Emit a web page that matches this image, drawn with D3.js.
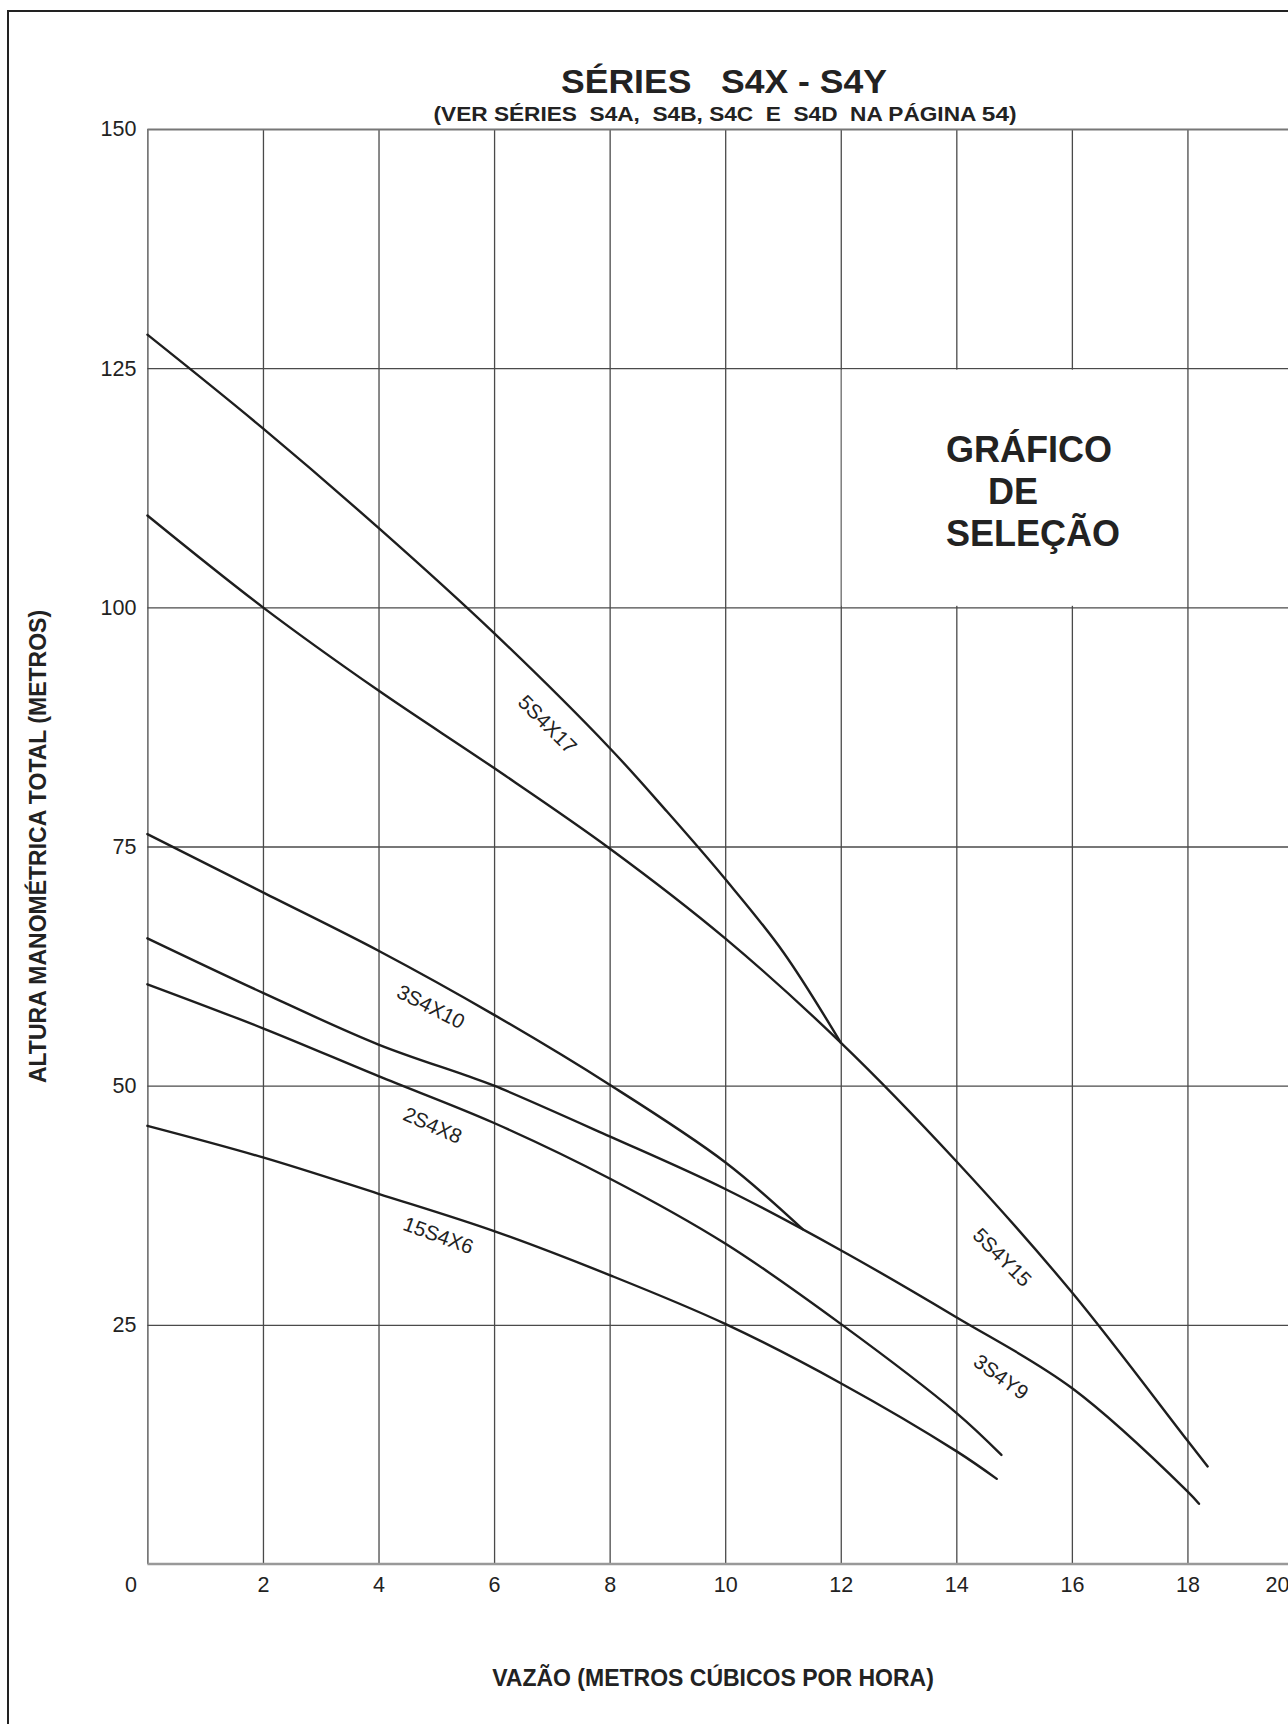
<!DOCTYPE html>
<html>
<head>
<meta charset="utf-8">
<script src="https://cdn.jsdelivr.net/npm/d3@7/dist/d3.min.js"></script>
<style>
  html, body { margin: 0; padding: 0; background: #fff; }
  svg { display: block; }
  text { font-family: "Liberation Sans", Arial, sans-serif; fill: #222; }
</style>
</head>
<body>
<svg id="chart" width="1288" height="1724"></svg>
<script>
// axis ticks
const xTicks = [0, 2, 4, 6, 8, 10, 12, 14, 16, 18, 20];
const yTicks = [25, 50, 75, 100, 125, 150];

// curve names
const pumpNames = ["5S4X17", "5S4Y15", "3S4X10", "3S4Y9", "2S4X8", "15S4X6"];

// flow (m3/h) and head (m)
const flow5S4X17 = [0, 2, 4, 6, 8, 9, 10, 11, 12];
const head5S4X17 = [128.5, 118.7, 108.3, 97.3, 85.3, 78.6, 71.6, 64.0, 54.5];

const flow5S4Y15 = [0, 2, 4, 6, 8, 10, 12, 14, 16, 18, 18.35];
const head5S4Y15 = [109.6, 100.0, 91.3, 83.2, 74.8, 65.4, 54.5, 42.1, 28.4, 12.9, 10.2];

const flow3S4X10 = [0, 2, 4, 6, 8, 10, 11.34];
const head3S4X10 = [76.3, 70.2, 64.1, 57.4, 50.1, 42.0, 35.0];

const flow3S4Y9 = [0, 2, 4, 5.5, 6, 8, 10, 12, 14, 16, 18, 18.2];
const head3S4Y9 = [65.4, 59.7, 54.3, 51.1, 50.0, 44.7, 39.2, 32.8, 25.8, 18.4, 7.6, 6.3];

const flow2S4X8 = [0, 2, 4, 6, 8, 10, 12, 14, 14.78];
const head2S4X8 = [60.6, 56.0, 51.0, 46.1, 40.3, 33.5, 25.1, 15.8, 11.4];

const flow15S4X6 = [0, 2, 4, 6, 8, 10, 12, 14, 14.7];
const head15S4X6 = [45.8, 42.5, 38.7, 34.8, 30.2, 25.1, 18.9, 11.8, 8.9];

const flows = [flow5S4X17, flow5S4Y15, flow3S4X10, flow3S4Y9, flow2S4X8, flow15S4X6];
const heads = [head5S4X17, head5S4Y15, head3S4X10, head3S4Y9, head2S4X8, head15S4X6];

// where each curve name sits (data units) and its slant
const labelFlow = [6.93, 14.8, 4.91, 14.78, 4.94, 5.04];
const labelHead = [87.8, 32.1, 58.3, 19.6, 45.9, 34.4];
const labelAngle = [45, 45, 27, 36, 24, 20];

const svg = d3.select("#chart");

svg.append("rect")
  .attr("width", 1288).attr("height", 1724)
  .attr("fill", "#fff");

// page frame (runs off the right and bottom edges)
svg.append("rect")
  .attr("x", 8).attr("y", 11)
  .attr("width", 1400).attr("height", 1800)
  .attr("fill", "none")
  .attr("stroke", "#222")
  .attr("stroke-width", 2);

const x = d3.scaleLinear().domain([0, 20]).range([147.4, 1303]);
const y = d3.scaleLinear().domain([0, 150]).range([1564, 129]);

// vertical grid + x labels
const gx = svg.append("g")
  .attr("transform", "translate(0," + y(0) + ")")
  .call(d3.axisBottom(x)
    .tickValues(xTicks)
    .tickSizeInner(-(y(0) - y(150)))
    .tickSizeOuter(0)
    .tickPadding(13));
gx.select(".domain").remove();
gx.selectAll(".tick line").attr("stroke", "#4a4a4a").attr("stroke-width", 1.3);
gx.selectAll(".tick text")
  .attr("font-size", 21.5)
  .attr("fill", "#333")
  .attr("dx", d => d === 0 ? -17 : d === 20 ? -26 : 0);

// horizontal grid + y labels
const gy = svg.append("g")
  .attr("transform", "translate(" + x(0) + ",0)")
  .call(d3.axisLeft(y)
    .tickValues(yTicks)
    .tickSizeInner(-(x(20) - x(0)))
    .tickSizeOuter(0)
    .tickPadding(11));
gy.select(".domain").remove();
gy.selectAll(".tick line").attr("stroke", "#4a4a4a").attr("stroke-width", 1.3);
gy.select(".tick:last-of-type line").attr("stroke", "#777").attr("stroke-width", 2);
gy.selectAll(".tick text")
  .attr("font-size", 21.5)
  .attr("fill", "#333");

// bottom axis line
svg.append("line")
  .attr("x1", x(0)).attr("x2", x(20))
  .attr("y1", y(0)).attr("y2", y(0))
  .attr("stroke", "#999")
  .attr("stroke-width", 2.5);

// blank cell behind the "GRÁFICO DE SELEÇÃO" note
svg.append("rect")
  .attr("x", x(12) + 1)
  .attr("y", y(125) + 1.5)
  .attr("width", x(18) - x(12) - 2)
  .attr("height", y(100) - y(125) - 3)
  .attr("fill", "#fff");

const note = svg.append("g")
  .attr("font-size", 36)
  .attr("font-weight", "bold");
note.append("text").attr("x", 946).attr("y", 462).text("GRÁFICO");
note.append("text").attr("x", 988).attr("y", 504).text("DE");
note.append("text").attr("x", 946).attr("y", 546).text("SELEÇÃO");

// pump curves
const line = d3.line()
  .x(d => x(d[0]))
  .y(d => y(d[1]))
  .curve(d3.curveCatmullRom.alpha(0.5));

svg.append("g")
  .selectAll("path")
  .data(pumpNames)
  .join("path")
  .attr("d", (name, i) => line(d3.zip(flows[i], heads[i])))
  .attr("fill", "none")
  .attr("stroke", "#1e1e1e")
  .attr("stroke-width", 2.4)
  .attr("stroke-linecap", "round");

svg.append("g")
  .selectAll("text")
  .data(pumpNames)
  .join("text")
  .attr("transform", (name, i) =>
    "translate(" + x(labelFlow[i]) + "," + y(labelHead[i]) + ") rotate(" + labelAngle[i] + ")")
  .attr("text-anchor", "middle")
  .attr("dominant-baseline", "central")
  .attr("font-size", 20.5)
  .attr("fill", "#2a2a2a")
  .text(d => d);

// titles
svg.append("text")
  .attr("x", 724).attr("y", 93)
  .attr("text-anchor", "middle")
  .attr("font-size", 33)
  .attr("font-weight", "bold")
  .attr("textLength", 326)
  .attr("lengthAdjust", "spacingAndGlyphs")
  .style("white-space", "pre")
  .text("SÉRIES   S4X - S4Y");

const sub = svg.append("text")
  .attr("x", 725).attr("y", 121)
  .attr("text-anchor", "middle")
  .attr("font-size", 19.5)
  .attr("font-weight", "bold")
  .attr("textLength", 583)
  .attr("lengthAdjust", "spacingAndGlyphs")
  .style("white-space", "pre");
sub.append("tspan").text("(VER SÉRIES  S4A,  S4B, S4C  E  S4D  NA PÁGINA ");
sub.append("tspan").attr("font-size", 21).attr("font-weight", 900).text("54");
sub.append("tspan").text(")");

svg.append("text")
  .attr("x", 713).attr("y", 1686)
  .attr("text-anchor", "middle")
  .attr("font-size", 23)
  .attr("font-weight", "bold")
  .text("VAZÃO (METROS CÚBICOS POR HORA)");

svg.append("text")
  .attr("transform", "translate(46," + y(75) + ") rotate(-90)")
  .attr("text-anchor", "middle")
  .attr("font-size", 23)
  .attr("font-weight", "bold")
  .text("ALTURA MANOMÉTRICA TOTAL (METROS)");
</script>
</body>
</html>
